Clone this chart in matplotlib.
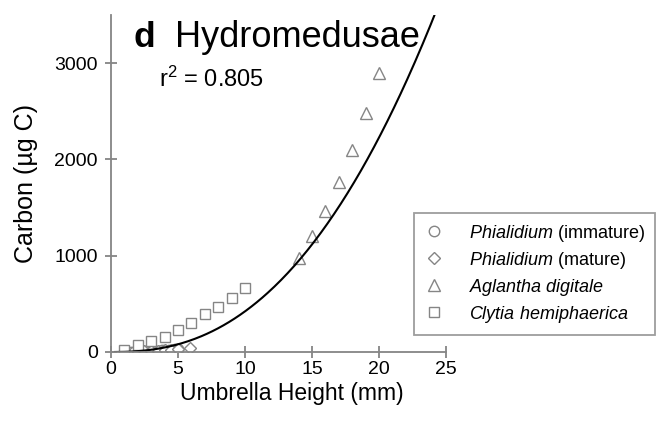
import numpy as np
import matplotlib.pyplot as plt

plt.rcParams['font.family'] = ['Liberation Sans', 'DejaVu Sans']
plt.rcParams['mathtext.fontset'] = 'custom'
plt.rcParams['mathtext.rm'] = 'Liberation Sans'
plt.rcParams['mathtext.it'] = 'Liberation Sans:italic'
plt.rcParams['mathtext.bf'] = 'Liberation Sans:bold'

# Phialidium (immature)
phi_imm_h = [1.5, 1.7, 2.0, 2.2, 2.5, 2.7, 3.0, 3.2, 3.5, 3.8, 4.0, 4.3, 4.5, 4.8, 5.0]
phi_imm_c = [2, 4, 5, 7, 8, 10, 12, 13, 15, 18, 20, 22, 24, 27, 30]

# Phialidium (mature)
phi_mat_h = [2.0, 2.5, 3.0, 3.5, 4.0, 4.5, 5.0, 5.9]
phi_mat_c = [5, 8, 11, 15, 19, 24, 30, 45]

# Aglantha digitale
agl_h = [14, 15, 16, 17, 18, 19, 20]
agl_c = [980, 1200, 1460, 1770, 2100, 2480, 2900]

# Clytia hemiphaerica
cly_h = [1, 2, 3, 4, 5, 6, 7, 8, 9, 10]
cly_c = [25, 70, 115, 160, 230, 305, 390, 470, 560, 660]

# power-law fit C = a * H^b
fit_a = 1.68
fit_b = 2.40
r2_text = "0.805"

gray = '#858585'

fig = plt.figure(figsize=(6.63, 4.30), dpi=100)
ax = fig.add_axes([0.1674, 0.1814, 0.5053, 0.7836])

mk = dict(linestyle='none', markerfacecolor='white', markeredgecolor=gray,
          markeredgewidth=1.0)
ax.plot(phi_imm_h, phi_imm_c, marker='o', markersize=7.5,
        label=r'$\it{Phialidium}$ (immature)', **mk)
ax.plot(phi_mat_h, phi_mat_c, marker='D', markersize=6.6,
        label=r'$\it{Phialidium}$ (mature)', **mk)
ax.plot(agl_h, agl_c, marker='^', markersize=8.5,
        label=r'$\it{Aglantha\ digitale}$', **mk)
ax.plot(cly_h, cly_c, marker='s', markersize=7.5,
        label=r'$\it{Clytia\ hemiphaerica}$', **mk)

xs = np.linspace(0.3, 25, 300)
ax.plot(xs, fit_a * xs ** fit_b, color='black', lw=1.5)

ax.set_xlim(0, 25)
ax.set_ylim(0, 3500)
ax.set_xticks([0, 5, 10, 15, 20, 25])
ax.set_yticks([0, 1000, 2000, 3000])
for s in ['top', 'right']:
    ax.spines[s].set_visible(False)
for s in ['left', 'bottom']:
    ax.spines[s].set_color(gray)
    ax.spines[s].set_linewidth(1.3)
ax.tick_params(direction='inout', length=9, color=gray, width=1.3,
               labelsize=14)
ax.tick_params(axis='y', pad=5)
ax.tick_params(axis='x', pad=2)

ax.set_xlabel('Umbrella Height (mm)', fontsize=16.5, labelpad=3, x=0.54)
ax.set_ylabel('Carbon (µg C)', fontsize=18, labelpad=12)

ax.text(0.066, 0.905, 'd', transform=ax.transAxes, fontsize=25.5,
        fontweight='bold', va='baseline', ha='left')
ax.text(0.19, 0.905, 'Hydromedusae', transform=ax.transAxes, fontsize=26,
        va='baseline', ha='left')
ax.text(0.143, 0.786, f'r$^2$ = {r2_text}', transform=ax.transAxes, fontsize=17,
        va='baseline', ha='left')

leg = fig.legend(loc='upper left', bbox_to_anchor=(0.624, 0.505), fontsize=13,
                 frameon=True, fancybox=False, edgecolor=gray, handletextpad=1.3,
                 borderpad=0.55, labelspacing=0.33, handlelength=1.2,
                 borderaxespad=0)
leg.get_frame().set_linewidth(1.3)

fig.savefig('out.png', dpi=100)
